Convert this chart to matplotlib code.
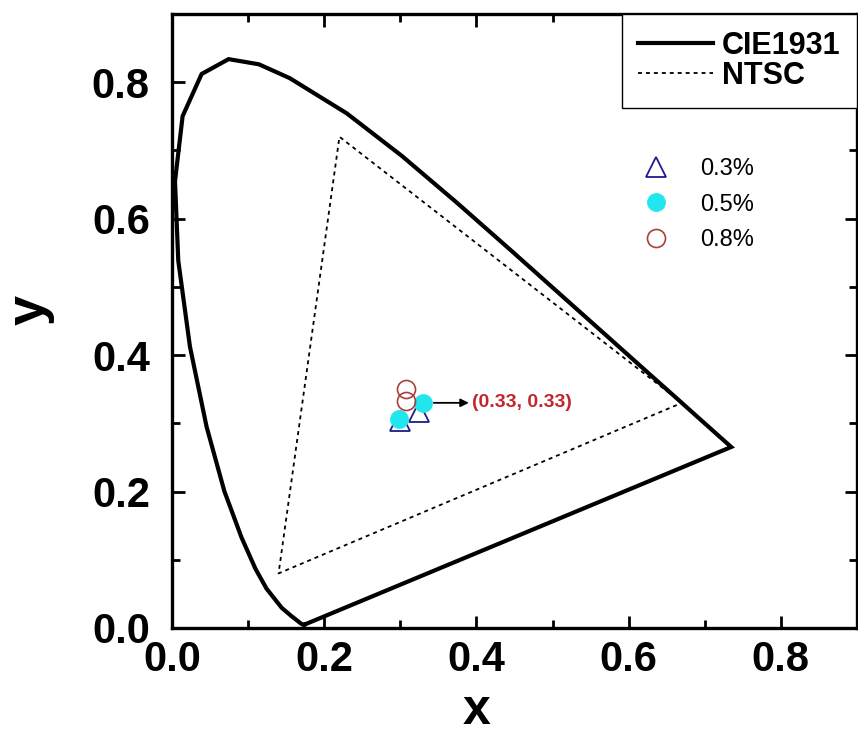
import matplotlib
matplotlib.use("Agg")
import matplotlib.pyplot as plt
from matplotlib.ticker import MultipleLocator

plt.rcParams["font.family"] = ["Liberation Sans", "DejaVu Sans"]

# CIE 1931 spectral locus (chromaticity x, y), 380-700 nm
cie_x = [0.1741, 0.1738, 0.1733, 0.1726, 0.1714, 0.1689, 0.1644, 0.1566,
         0.1440, 0.1241, 0.1096, 0.0913, 0.0687, 0.0454, 0.0235, 0.0082,
         0.0039, 0.0139, 0.0389, 0.0743, 0.1142, 0.1547, 0.2296, 0.3016,
         0.3731, 0.4441, 0.5125, 0.5752, 0.6270, 0.6658, 0.6915, 0.7079,
         0.7190, 0.7260, 0.7300, 0.7334, 0.7347]
cie_y = [0.0050, 0.0049, 0.0048, 0.0048, 0.0051, 0.0069, 0.0109, 0.0177,
         0.0297, 0.0578, 0.0868, 0.1327, 0.2007, 0.2950, 0.4127, 0.5384,
         0.6548, 0.7502, 0.8120, 0.8338, 0.8262, 0.8059, 0.7543, 0.6923,
         0.6245, 0.5547, 0.4866, 0.4242, 0.3725, 0.3340, 0.3083, 0.2920,
         0.2809, 0.2740, 0.2700, 0.2666, 0.2653]

# NTSC primaries (R, G, B)
ntsc_x = [0.67, 0.22, 0.14]
ntsc_y = [0.33, 0.72, 0.08]

# Measured chromaticity coordinates per doping concentration
conc_labels = ["0.3%", "0.5%", "0.8%"]
x_03 = [0.299, 0.324]
y_03 = [0.304, 0.317]
x_05 = [0.298, 0.33]
y_05 = [0.307, 0.33]
x_08 = [0.307, 0.307]
y_08 = [0.332, 0.351]

tick_vals = [0.0, 0.2, 0.4, 0.6, 0.8]
note_xy = (0.33, 0.33)

fig = plt.figure(figsize=(8.58, 7.35), dpi=100)
ax = fig.add_axes([0.2005, 0.1456, 0.7983, 0.8354])

# closed loci
locus_x = cie_x + [cie_x[0]]
locus_y = cie_y + [cie_y[0]]
tri_x = ntsc_x + [ntsc_x[0]]
tri_y = ntsc_y + [ntsc_y[0]]

l_cie, = ax.plot(locus_x, locus_y, color="black", lw=3.0, solid_joinstyle="miter")
l_ntsc, = ax.plot(tri_x, tri_y, color="black", lw=1.3, linestyle=(0, (2.2, 2.2)))

m1, = ax.plot(x_03, y_03, linestyle="none", marker="^", ms=15, mfc="none",
              mec="#1c1c8a", mew=1.3)
m2, = ax.plot(x_05, y_05, linestyle="none", marker="o", ms=13, mfc="#22e6ee",
              mec="#22e6ee", mew=0.5)
m3, = ax.plot(x_08, y_08, linestyle="none", marker="o", ms=13, mfc="none",
              mec="#a8403c", mew=1.2)

# annotation for the white point
ax.annotate("", xy=(0.39, note_xy[1]), xytext=(0.344, note_xy[1]),
            arrowprops=dict(arrowstyle="-|>", color="black", lw=1.3,
                            mutation_scale=12, shrinkA=0, shrinkB=0))
ax.text(0.394, note_xy[1], f"({note_xy[0]:.2f}, {note_xy[1]:.2f})",
        color="#c0262c", fontsize=14, fontweight="bold", va="center", ha="left")

ax.set_xlim(0, 0.9)
ax.set_ylim(0, 0.9)
ax.set_xticks(tick_vals)
ax.set_yticks(tick_vals)
ax.set_xticklabels([f"{v:.1f}" for v in tick_vals])
ax.set_yticklabels([f"{v:.1f}" for v in tick_vals])
ax.xaxis.set_minor_locator(MultipleLocator(0.1))
ax.yaxis.set_minor_locator(MultipleLocator(0.1))
ax.tick_params(which="both", direction="in", top=True, right=True, width=2.0)
ax.tick_params(which="major", length=9)
ax.tick_params(which="minor", length=6)
ax.tick_params(axis="x", which="major", pad=9)
ax.tick_params(axis="y", which="major", pad=16)
for lab in ax.get_xticklabels() + ax.get_yticklabels():
    lab.set_fontsize(30)
    lab.set_fontweight("bold")
for sp in ax.spines.values():
    sp.set_linewidth(2.4)

ax.set_xlabel("x", fontsize=36, fontweight="bold")
ax.xaxis.set_label_coords(0.444, -0.098)
ax.set_ylabel("y", fontsize=39, fontweight="bold")
ax.yaxis.set_label_coords(-0.171, 0.518)

leg1 = ax.legend([l_cie, l_ntsc], ["CIE1931", "NTSC"], loc="upper right",
                 borderaxespad=0, fancybox=False, framealpha=1,
                 edgecolor="black", handlelength=2.45,
                 handletextpad=0.27, labelspacing=0.0, borderpad=0.55,
                 prop={"weight": "bold", "size": 22})
leg1.get_frame().set_linewidth(1.0)
ax.add_artist(leg1)

ax.legend([m1, m2, m3], conc_labels, loc="upper left", frameon=False,
          bbox_to_anchor=(632 / 858, 1 - 158 / 735),
          bbox_transform=fig.transFigure, borderaxespad=0, borderpad=0,
          fontsize=17, handlelength=2.0, handletextpad=0.9, labelspacing=0.575)

fig.savefig("out.png", dpi=100)
